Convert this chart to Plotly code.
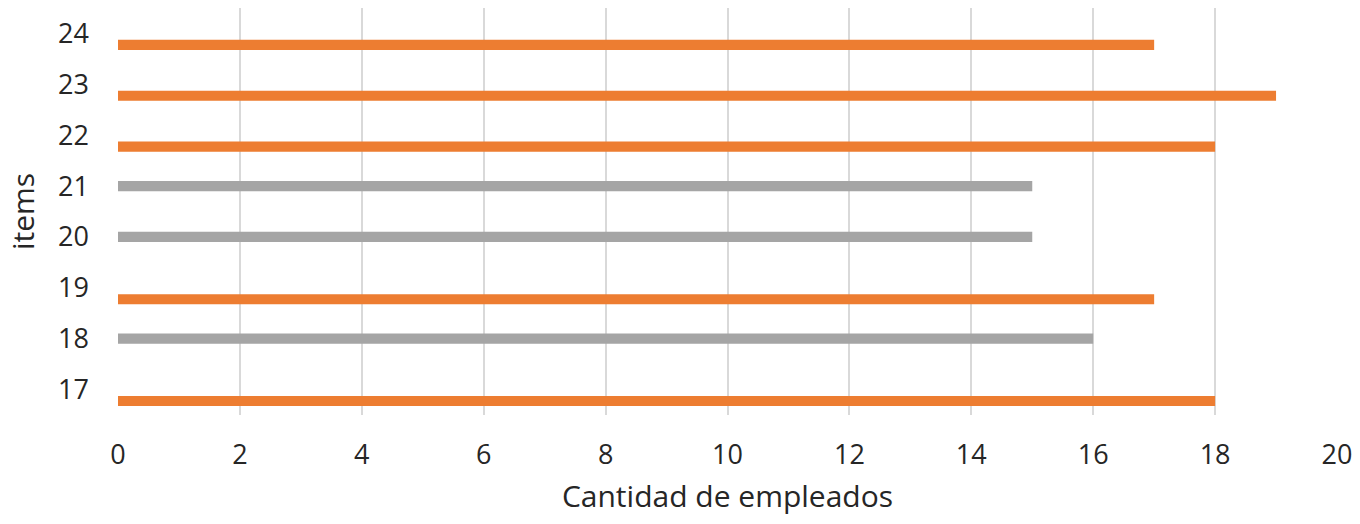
import plotly.graph_objects as go

items = [17, 18, 19, 20, 21, 22, 23, 24]
serie_naranja = [18, None, 17, None, None, 18, 19, 17]
serie_gris = [None, 16, None, 15, 15, None, None, None]
x_ticks = [0, 2, 4, 6, 8, 10, 12, 14, 16, 18, 20]

ORANGE = "#ED7D31"
GRAY = "#A5A5A5"
FONT = "Open Sans"

fig = go.Figure()
fig.add_trace(go.Bar(y=items, x=serie_naranja, orientation="h",
                     marker=dict(color=ORANGE, line=dict(width=0)),
                     offset=-0.325, width=0.2, name="A"))
fig.add_trace(go.Bar(y=items, x=serie_gris, orientation="h",
                     marker=dict(color=GRAY, line=dict(width=0)),
                     offset=-0.1, width=0.2, name="B"))

fig.update_layout(
    width=1360, height=524,
    margin=dict(l=118, r=20, t=8, b=109),
    paper_bgcolor="white", plot_bgcolor="white",
    showlegend=False,
    font=dict(family=FONT, size=27, color="#262626"),
    xaxis=dict(range=[0, 20], tickvals=x_ticks, showgrid=True,
               gridcolor="#D9D9D9", gridwidth=2, zeroline=False,
               showline=False, ticks="", ticklabelstandoff=21,
               title=dict(text="Cantidad de empleados", standoff=14,
                          font=dict(size=30))),
    yaxis=dict(range=[16.5, 24.5], tickvals=items, showgrid=False,
               zeroline=False, showline=False, ticks="",
               ticklabelstandoff=28,
               title=dict(text="items", standoff=14, font=dict(size=30))),
)

fig.write_html("out.html")
